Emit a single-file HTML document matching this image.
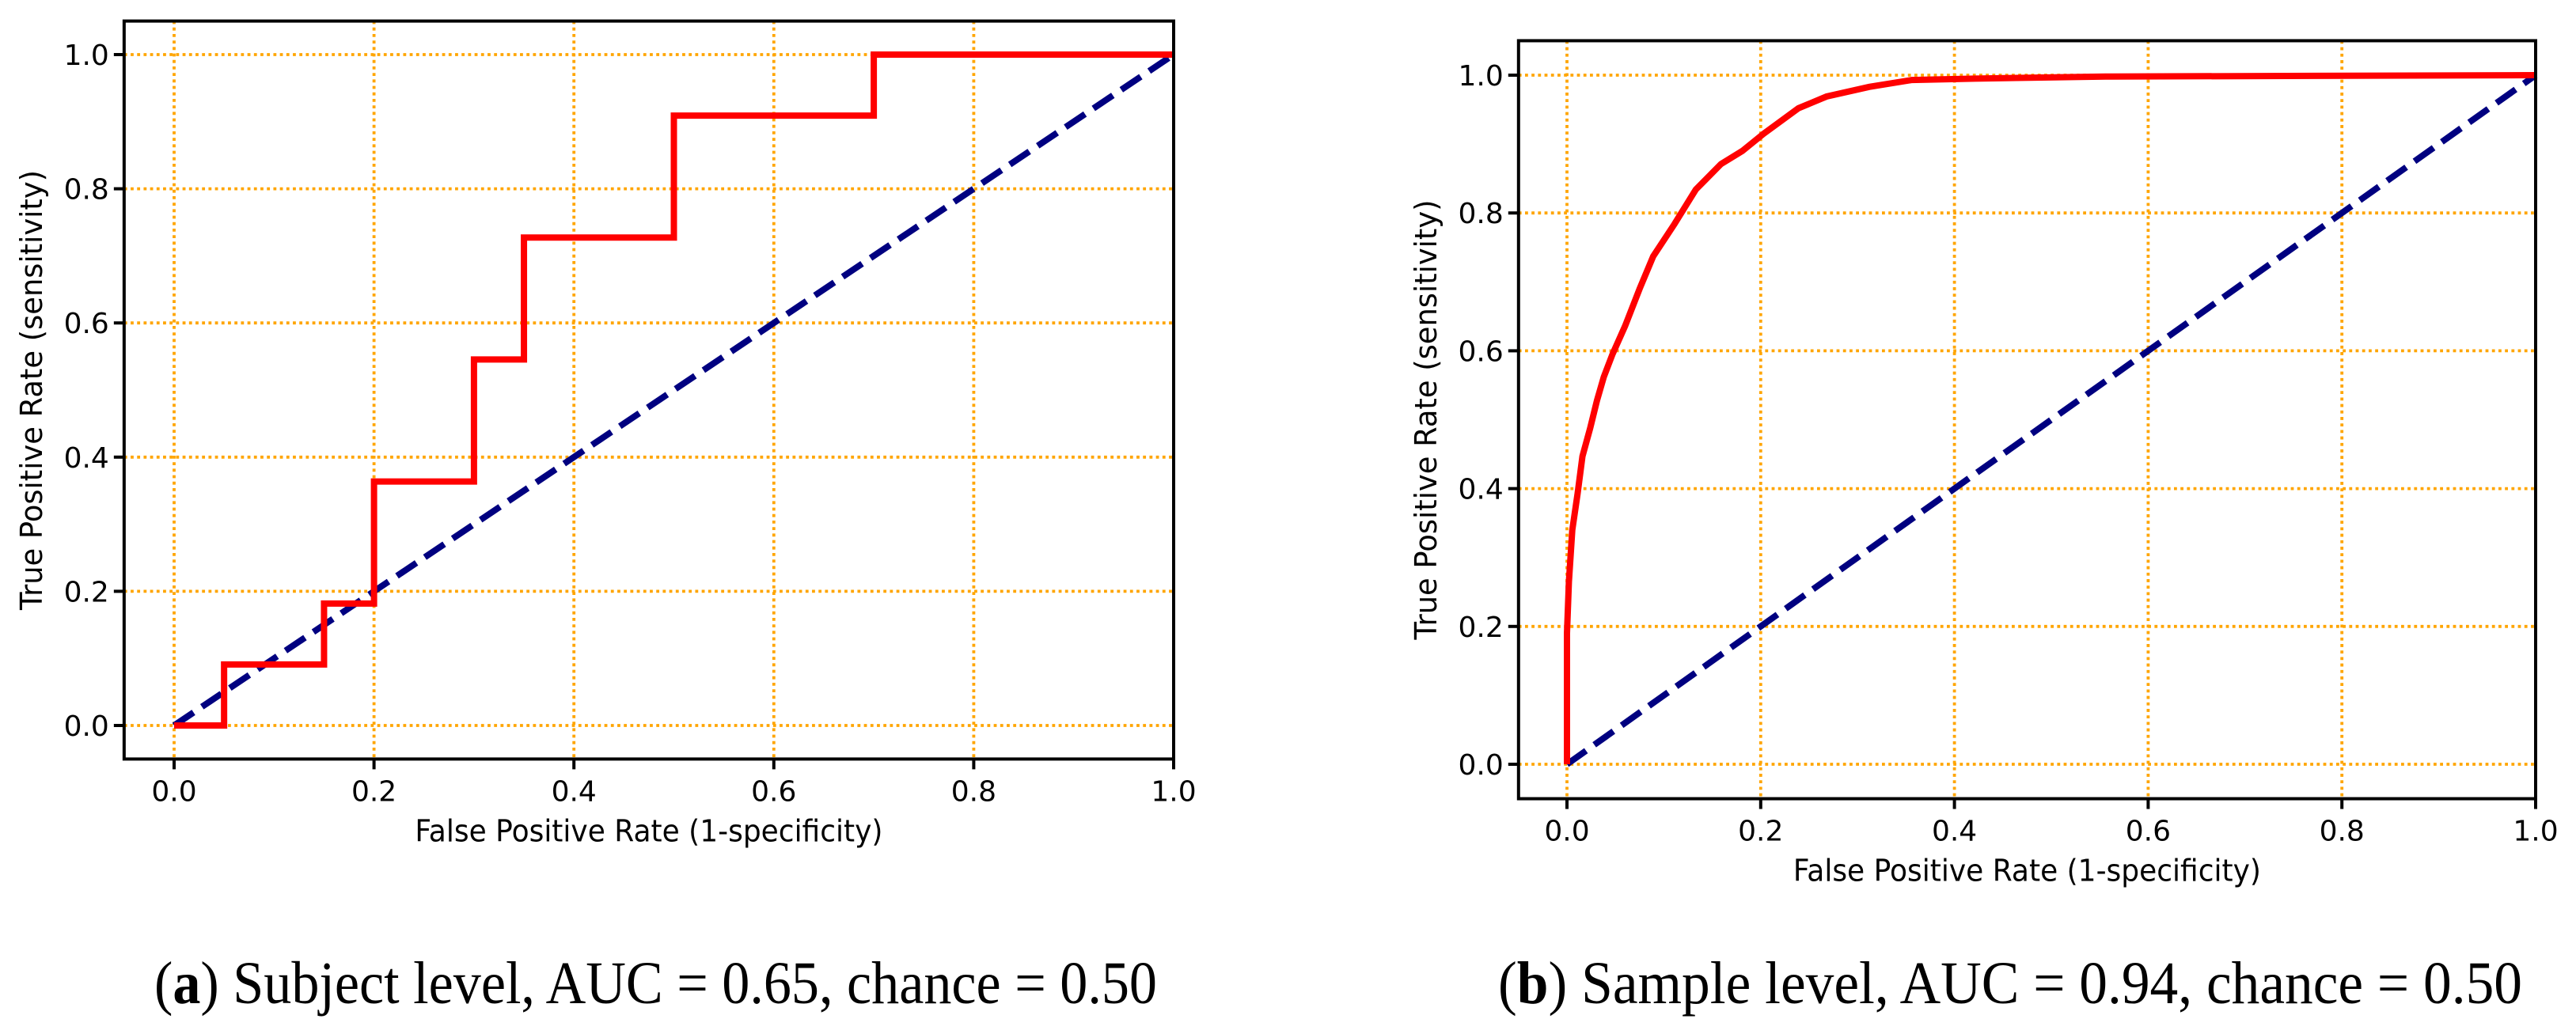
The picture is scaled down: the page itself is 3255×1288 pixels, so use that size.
<!DOCTYPE html>
<html><head><meta charset="utf-8"><style>html,body{margin:0;padding:0;background:#fff}svg{display:block}</style></head>
<body>
<svg id="fig" width="3255" height="1288" viewBox="0 0 3255 1288" xmlns="http://www.w3.org/2000/svg">
<rect width="3255" height="1288" fill="#fff"/>
<g id="pa"></g>
<g id="pb"></g>
<text x="195" y="1268" font-family="Liberation Serif, serif" font-size="76" textLength="1267" lengthAdjust="spacingAndGlyphs">(<tspan font-weight="bold">a</tspan>) Subject level, AUC = 0.65, chance = 0.50</text>
<text x="1893" y="1268" font-family="Liberation Serif, serif" font-size="76" textLength="1294" lengthAdjust="spacingAndGlyphs">(<tspan font-weight="bold">b</tspan>) Sample level, AUC = 0.94, chance = 0.50</text>
</svg>
<script>
const ticks = [0, 0.2, 0.4, 0.6, 0.8, 1.0];
const tickLabels = ["0.0", "0.2", "0.4", "0.6", "0.8", "1.0"];
const chanceX = [0, 1];
const chanceY = [0, 1];
const subjectFpr = [0, 0.05, 0.05, 0.15, 0.15, 0.2, 0.2, 0.3, 0.3, 0.35, 0.35, 0.5, 0.5, 0.7, 0.7, 1.0];
const subjectTpr = [0, 0, 0.0909, 0.0909, 0.1818, 0.1818, 0.3636, 0.3636, 0.5455, 0.5455, 0.7273, 0.7273, 0.9091, 0.9091, 1.0, 1.0];
const sampleFpr = [0, 0, 0.002, 0.0055, 0.011, 0.016, 0.024, 0.031, 0.038, 0.047, 0.06, 0.075, 0.089, 0.111, 0.133, 0.159, 0.181, 0.203, 0.239, 0.268, 0.312, 0.356, 0.421, 0.556, 1.0];
const sampleTpr = [0, 0.19, 0.265, 0.34, 0.393, 0.447, 0.488, 0.528, 0.562, 0.595, 0.636, 0.69, 0.737, 0.784, 0.834, 0.871, 0.89, 0.915, 0.952, 0.969, 0.983, 0.993, 0.995, 0.998, 1.0];

const NS = "http://www.w3.org/2000/svg";
function mk(parent, tag, attrs) {
  const e = document.createElementNS(NS, tag);
  for (const k in attrs) e.setAttribute(k, attrs[k]);
  parent.appendChild(e);
  return e;
}
function chart(g, ox0, ox1, oy0, oy1, fpr, tpr, ylabX) {
  const sx = v => ox0 + (ox1 - ox0) * v;
  const sy = v => oy0 - (oy0 - oy1) * v;
  const L = sx(-0.05), T = sy(1.05), B = sy(-0.05);
  const right = sx(1.0);
  ticks.forEach((t, i) => {
    const gx = mk(g, "line", {x1: sx(t), x2: sx(t), y1: T, y2: B, stroke: "#FFA500", "stroke-width": 3.8, "stroke-dasharray": "3.8,4.4"});
    
    
    const gy = mk(g, "line", {x1: L, x2: right, y1: sy(t), y2: sy(t), stroke: "#FFA500", "stroke-width": 3.8, "stroke-dasharray": "3.8,4.4"});
    
    
  });
  const ch = mk(g, "polyline", {points: chanceX.map((x, i) => sx(x) + "," + sy(chanceY[i])).join(" "), fill: "none", stroke: "#000080", "stroke-width": 8, "stroke-dasharray": "29.6,12.8"});
  
  
  const roc = mk(g, "polyline", {points: fpr.map((x, i) => sx(x) + "," + sy(tpr[i])).join(" "), fill: "none", stroke: "#FF0000", "stroke-width": 8, "stroke-linejoin": "miter"});
  
  
  const fr = mk(g, "rect", {x: L, y: T, width: right - L, height: B - T, fill: "none", stroke: "#000", "stroke-width": 4});
  
  
  ticks.forEach((t, i) => {
    const tx = mk(g, "line", {x1: sx(t), x2: sx(t), y1: B, y2: B + 13, stroke: "#000", "stroke-width": 4});
    
    
    const lx = mk(g, "text", {x: sx(t), y: B + 53, "text-anchor": "middle", "font-family": "DejaVu Sans, sans-serif", "font-size": 36});
    lx.textContent = tickLabels[i];
    
    
    const ty = mk(g, "line", {x1: L - 13, x2: L, y1: sy(t), y2: sy(t), stroke: "#000", "stroke-width": 4});
    
    
    const ly = mk(g, "text", {x: L - 19, y: sy(t) + 13, "text-anchor": "end", "font-family": "DejaVu Sans, sans-serif", "font-size": 36});
    ly.textContent = tickLabels[i];
    
    
  });
  const xl = mk(g, "text", {x: (L + right) / 2, y: B + 104, "text-anchor": "middle", "font-family": "DejaVu Sans, sans-serif", "font-size": 38, textLength: 591, lengthAdjust: "spacingAndGlyphs"});
  xl.textContent = "False Positive Rate (1-specificity)";
  
  
  const cy = (T + B) / 2;
  const yl = mk(g, "text", {x: ylabX, y: cy, "text-anchor": "middle", "font-family": "DejaVu Sans, sans-serif", "font-size": 38, transform: "rotate(-90 " + ylabX + " " + cy + ")", textLength: 556, lengthAdjust: "spacingAndGlyphs"});
  yl.textContent = "True Positive Rate (sensitivity)";
  
  
}
chart(document.getElementById("pa"), 220, 1483, 917, 69, subjectFpr, subjectTpr, 53);
chart(document.getElementById("pb"), 1980, 3204, 966, 95, sampleFpr, sampleTpr, 1815);
</script>
</body></html>
